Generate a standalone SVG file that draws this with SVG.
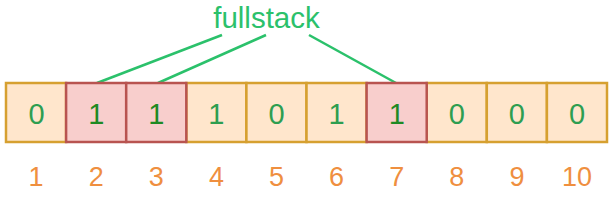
<svg xmlns="http://www.w3.org/2000/svg" width="616" height="200" viewBox="0 0 616 200">
<style>
.c{fill:#ffe6cc;stroke:#d6a030;stroke-width:2.5}
.r{fill:#f8cecc;stroke:#b85450;stroke-width:2.5}
.v{font-family:"Liberation Sans",Arial,sans-serif;font-size:29px;text-anchor:middle;fill:#2e9e50}
.vr{fill:#1f8a24}
.i{font-family:"Liberation Sans",Arial,sans-serif;font-size:27px;text-anchor:middle;fill:#ef8f3f}
.t{font-family:"Liberation Sans",Arial,sans-serif;font-size:29.5px;text-anchor:middle;fill:#2bc16b}
.l{stroke:#2bc16b;stroke-width:2.5;fill:none}
</style>
<rect width="616" height="200" fill="#ffffff"/>
<g id="label"><text class="t" x="266.5" y="28">fullstack</text></g>
<g id="connectors">
<line class="l" x1="222" y1="35" x2="97" y2="83"/>
<line class="l" x1="266" y1="35" x2="158" y2="83"/>
<line class="l" x1="309" y1="35" x2="396" y2="83"/>
</g>
<g id="cell1"><rect class="c" x="6" y="83" width="60.1" height="59"/><text class="v" x="36.5" y="124">0</text><text class="i" x="36" y="186">1</text></g>
<g id="cell4"><rect class="c" x="186.3" y="83" width="60.1" height="59"/><text class="v" x="216.4" y="124">1</text><text class="i" x="216.4" y="186">4</text></g>
<g id="cell5"><rect class="c" x="246.4" y="83" width="60.1" height="59"/><text class="v" x="276.5" y="124">0</text><text class="i" x="276.5" y="186">5</text></g>
<g id="cell6"><rect class="c" x="306.5" y="83" width="60.1" height="59"/><text class="v" x="336.6" y="124">1</text><text class="i" x="336.6" y="186">6</text></g>
<g id="cell8"><rect class="c" x="426.7" y="83" width="60.1" height="59"/><text class="v" x="456.8" y="124">0</text><text class="i" x="456.8" y="186">8</text></g>
<g id="cell9"><rect class="c" x="486.8" y="83" width="60.1" height="59"/><text class="v" x="516.9" y="124">0</text><text class="i" x="516.9" y="186">9</text></g>
<g id="cell10"><rect class="c" x="546.9" y="83" width="60.1" height="59"/><text class="v" x="577" y="124">0</text><text class="i" x="577" y="186">10</text></g>
<g id="cell2"><rect class="r" x="66.1" y="83" width="60.1" height="59"/><text class="v vr" x="96.2" y="124">1</text><text class="i" x="96.2" y="186">2</text></g>
<g id="cell3"><rect class="r" x="126.2" y="83" width="60.1" height="59"/><text class="v vr" x="156.3" y="124">1</text><text class="i" x="156.3" y="186">3</text></g>
<g id="cell7"><rect class="r" x="366.6" y="83" width="60.1" height="59"/><text class="v vr" x="396.7" y="124">1</text><text class="i" x="396.7" y="186">7</text></g>
</svg>
